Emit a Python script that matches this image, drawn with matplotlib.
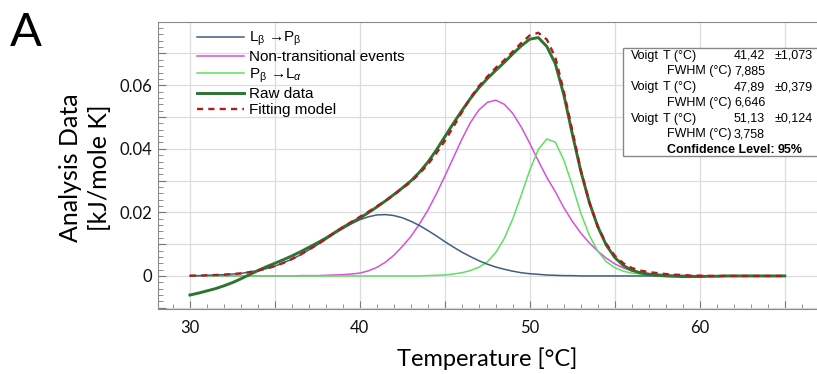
import numpy as np
import matplotlib
matplotlib.use("Agg")
import matplotlib.pyplot as plt
from matplotlib.ticker import MultipleLocator, FuncFormatter
from matplotlib.patches import Rectangle

plt.rcParams["mathtext.fontset"] = "custom"
plt.rcParams["mathtext.rm"] = "Liberation Sans"
plt.rcParams["mathtext.it"] = "Liberation Sans:italic"

# temperature grid of the read-off points (deg C)
temp = np.arange(30, 65.01, 0.5)

# L_beta -> P_beta component
lb_pb = [0.0001, 0.0001, 0.0002, 0.0003, 0.0004, 0.0006, 0.0008, 0.0012, 0.0017, 0.0023,
         0.0031, 0.0041, 0.0053, 0.0066, 0.0082, 0.0098, 0.0115, 0.0133, 0.0149, 0.0164,
         0.0177, 0.0186, 0.0192, 0.0193, 0.0190, 0.0183, 0.0172, 0.0159, 0.0143, 0.0126,
         0.0108, 0.0091, 0.0075, 0.0061, 0.0048, 0.0037, 0.0028, 0.0021, 0.0015, 0.0010,
         0.0007, 0.0005, 0.0003, 0.0002, 0.0001, 0.0001] + [0.0] * 25
# non-transitional events
non_trans = [0.0] * 12 + [
    0.0000, 0.0001, 0.0001, 0.0001, 0.0002, 0.0003, 0.0004, 0.0006, 0.0009, 0.0016,
    0.0027, 0.0043, 0.0065, 0.0093, 0.0124, 0.0163, 0.0207, 0.0258, 0.0314, 0.0372,
    0.0430, 0.0482, 0.0522, 0.0546, 0.0553, 0.0540, 0.0511, 0.0468, 0.0417, 0.0362,
    0.0310, 0.0265, 0.0215, 0.0172, 0.0135, 0.0104, 0.0078, 0.0056, 0.0038, 0.0025,
    0.0016, 0.0011, 0.0008, 0.0006, 0.0004, 0.0003, 0.0002, 0.0001, 0.0001] + [0.0] * 10
# P_beta -> L_alpha component
pb_la = [0.0] * 28 + [
    0.0001, 0.0002, 0.0003, 0.0006, 0.0010, 0.0017, 0.0027, 0.0044, 0.0074, 0.0118,
    0.0180, 0.0255, 0.0333, 0.0398, 0.0431, 0.0421, 0.0365, 0.0285, 0.0198, 0.0128,
    0.0078, 0.0045, 0.0026, 0.0015, 0.0009, 0.0006, 0.0004, 0.0003, 0.0002, 0.0001,
    0.0001] + [0.0] * 12
# measured curve
raw = [-0.0060, -0.0054, -0.0047, -0.0040, -0.0031, -0.0021, -0.0009, 0.0004, 0.0017, 0.0029,
       0.0040, 0.0051, 0.0063, 0.0076, 0.0090, 0.0104, 0.0119, 0.0136, 0.0153, 0.0168,
       0.0182, 0.0199, 0.0217, 0.0236, 0.0256, 0.0277, 0.0299, 0.0326, 0.0358, 0.0396,
       0.0438, 0.0480, 0.0520, 0.0558, 0.0592, 0.0621, 0.0647, 0.0672, 0.0699, 0.0724,
       0.0745, 0.0750, 0.0722, 0.0668, 0.0570, 0.0447, 0.0330, 0.0232, 0.0155, 0.0097,
       0.0058, 0.0033, 0.0018, 0.0010, 0.0005, 0.0002, 0.0000, -0.0001, -0.0002, -0.0002,
       -0.0002, -0.0001, -0.0001] + [0.0] * 8
# fitting model
fit = [0.0001, 0.0001, 0.0002, 0.0003, 0.0004, 0.0006, 0.0008, 0.0012, 0.0017, 0.0023,
       0.0031, 0.0041, 0.0053, 0.0067, 0.0083, 0.0099, 0.0117, 0.0136, 0.0153, 0.0170,
       0.0186, 0.0202, 0.0219, 0.0236, 0.0255, 0.0276, 0.0296, 0.0322, 0.0351, 0.0386,
       0.0425, 0.0469, 0.0515, 0.0560, 0.0597, 0.0627, 0.0655, 0.0679, 0.0706, 0.0733,
       0.0757, 0.0765, 0.0744, 0.0688, 0.0581, 0.0458, 0.0333, 0.0232, 0.0156, 0.0101,
       0.0064, 0.0040, 0.0025, 0.0017, 0.0012, 0.0009, 0.0006, 0.0004, 0.0003, 0.0001,
       0.0001] + [0.0] * 10

# fit results box
table_rows = [
    ("Voigt", "T (°C)", "41,42", "±1,073"),
    ("", "FWHM (°C)", "7,885", ""),
    ("Voigt", "T (°C)", "47,89", "±0,379"),
    ("", "FWHM (°C)", "6,646", ""),
    ("Voigt", "T (°C)", "51,13", "±0,124"),
    ("", "FWHM (°C)", "3,758", ""),
]

W, H = 817, 374
fig = plt.figure(figsize=(W / 100, H / 100), dpi=100)
ax = fig.add_axes([158 / W, 1 - 309 / H, 1 - 158 / W, (309 - 22) / H])

ax.plot(temp, non_trans, color="#d452d8", lw=1.1, label="Non-transitional events", zorder=3)
ax.plot(temp, pb_la, color="#5fe05f", lw=1.1, label="P$_{\\mathrm{β}}$ →L$_{α}$", zorder=4)
ax.plot(temp, lb_pb, color="#3e5f82", lw=1.1, label="L$_{\\mathrm{β}}$ →P$_{\\mathrm{β}}$", zorder=5)
ax.plot(temp, raw, color="#2c7430", lw=2.1, label="Raw data", zorder=6)
ax.plot(temp, fit, color="#aa1e1e", lw=1.7, ls=(0, (2.6, 2.2)), label="Fitting model", zorder=7)

ax.set_xlim(28.12, 66.9)
ax.set_ylim(-0.0104, 0.0799)

ax.xaxis.set_major_locator(MultipleLocator(5))
ax.xaxis.set_minor_locator(MultipleLocator(1))
ax.xaxis.set_major_formatter(FuncFormatter(lambda v, p: "%d" % v if round(v) % 10 == 0 else ""))
ax.yaxis.set_major_locator(MultipleLocator(0.01))
ax.yaxis.set_minor_locator(MultipleLocator(0.002))
ax.yaxis.set_major_formatter(FuncFormatter(
    lambda v, p: ("0" if abs(v) < 1e-9 else "%.2f" % v) if round(v * 100) % 2 == 0 and v > -0.005 else ""))

ax.grid(True, which="major", color="#dcdcdc", lw=0.9)
ax.set_axisbelow(True)
ax.tick_params(which="both", direction="in", colors="#777777", labelcolor="#111111",
               labelsize=12)
ax.tick_params(which="major", length=6)
ax.tick_params(which="minor", length=3.5)
ax.tick_params(axis="x", pad=8)
ax.tick_params(axis="y", pad=4)
for lab in ax.get_xticklabels() + ax.get_yticklabels():
    lab.set_family("Lato")
for side in ("left", "bottom", "top"):
    ax.spines[side].set_color("#8a8a8a")
ax.spines["right"].set_visible(False)

ax.set_xlabel("Temperature [°C]", family="Lato", fontsize=17, labelpad=8)
fig.text(85 / W, 1 - 168 / H, "Analysis Data\n[kJ/mole K]", family="Lato", fontsize=18,
         rotation=90, ha="center", va="center", multialignment="center", linespacing=1.3)
fig.text(10 / W, 1 - 33 / H, "A", family="Lato", fontsize=34, va="center", ha="left")

# legend in legend order
h, l = ax.get_legend_handles_labels()
order = [2, 0, 1, 3, 4]
leg = ax.legend([h[i] for i in order], [l[i] for i in order], loc="upper left",
                bbox_to_anchor=(197 / W, 1 - 30 / H), bbox_transform=fig.transFigure,
                frameon=False, borderpad=0, borderaxespad=0, handlelength=3.1,
                handletextpad=0.3, labelspacing=0.14,
                prop={"family": "Liberation Sans", "size": 11})

# results box
box = Rectangle((623 / W, 1 - 156 / H), (818 - 623) / W, (156 - 48) / H,
                transform=fig.transFigure, facecolor="white", edgecolor="#888888",
                lw=1.0, zorder=10)
fig.add_artist(box)
tk = dict(family="Liberation Sans", fontsize=9.0, va="center", ha="left", zorder=11)
for i, (a, b, c, d) in enumerate(table_rows):
    y = 1 - (55.5 + 15.8 * i) / H
    fig.text(631 / W, y, a, **tk)
    fig.text((663 if a else 667) / W, y, b, **tk)
    fig.text(734 / W, y, c, **tk)
    fig.text(775 / W, y, d, **tk)
y = 1 - (55.5 + 15.8 * 6) / H
fig.text(667 / W, y, "Confidence Level:", fontweight="bold", **tk)
fig.text(778 / W, y, "95%", fontweight="bold", **tk)

fig.savefig("out.png", dpi=100)
